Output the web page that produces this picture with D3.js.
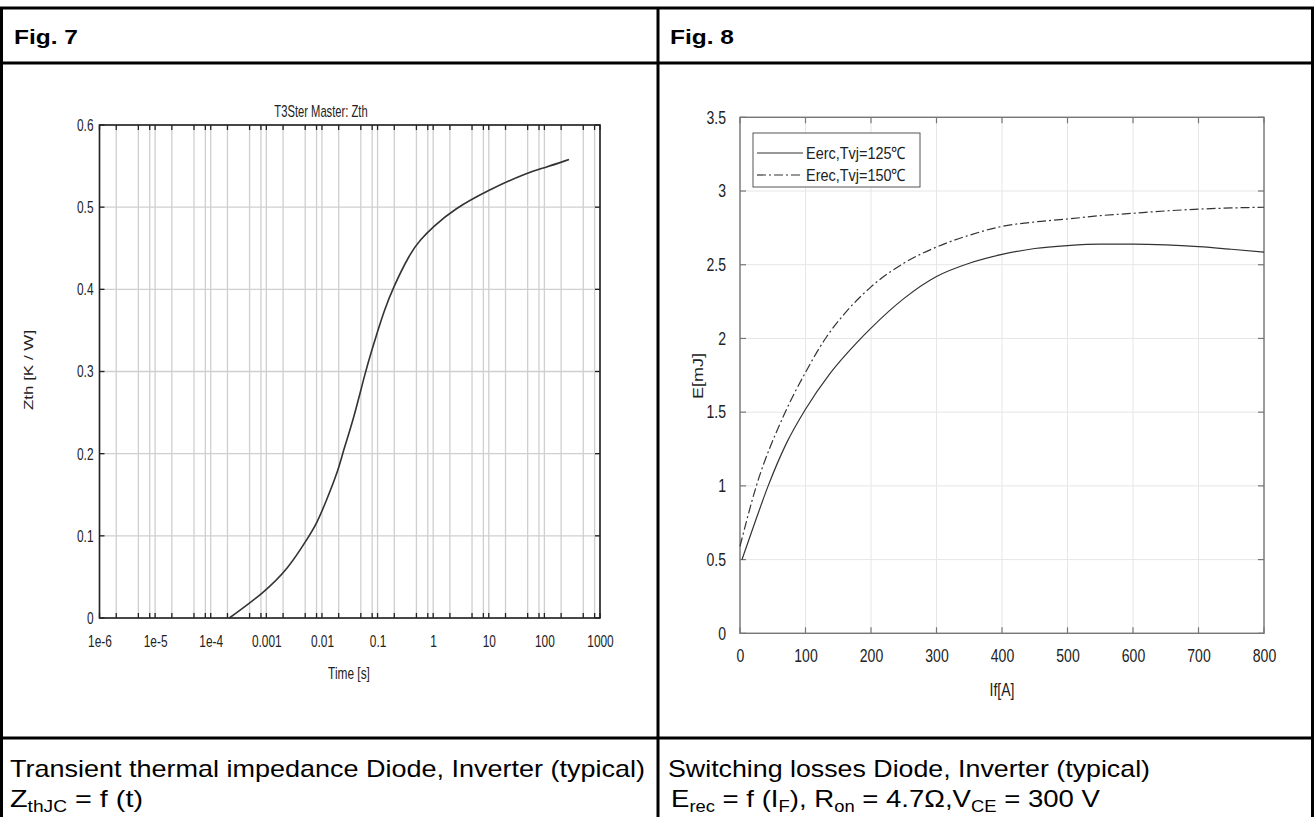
<!doctype html>
<html>
  <head>
    <meta charset="utf-8">
    <script src="https://cdn.jsdelivr.net/npm/d3@7/dist/d3.min.js"></script>
    <title>Fig. 7 / Fig. 8</title>
    <style>
      body { margin: 0; background: #fff; }
      svg { display: block; font-family: "Liberation Sans", Arial, sans-serif; }
    </style>
  </head>
  <body>
    <div id="chart"></div>
    <script>
      // Fig. 7 : Zth = f(t), thermal impedance of the diode
      const zthTime = [2.16e-4, 8.8e-4, 2.5e-3, 5.3e-3, 8.1e-3, 0.0122, 0.0197, 0.0243, 0.0367,
                       0.0596, 0.0787, 0.1016, 0.13, 0.19, 0.385, 0.58, 1.0, 2.28, 10, 48.8, 102, 277];
      const zthValue = [0, 0.030, 0.0605, 0.095, 0.115, 0.144, 0.180, 0.204, 0.241,
                        0.298, 0.326, 0.350, 0.373, 0.402, 0.444, 0.460, 0.476, 0.497, 0.521, 0.542, 0.548, 0.558];
      const timeTicks = [1e-6, 1e-5, 1e-4, 1e-3, 1e-2, 0.1, 1, 10, 100, 1000];
      const timeLabels = ["1e-6", "1e-5", "1e-4", "0.001", "0.01", "0.1", "1", "10", "100", "1000"];
      const zthTicks = [0, 0.1, 0.2, 0.3, 0.4, 0.5, 0.6];

      // Fig. 8 : Erec = f(IF)
      const ercCurrent = [3, 25, 43, 71, 100, 137, 178, 200, 250, 300, 350, 400, 450, 500, 550, 600, 650, 700, 750, 800];
      const ercEnergy  = [0.5, 0.78, 1.0, 1.29, 1.52, 1.76, 1.97, 2.07, 2.27, 2.42, 2.51, 2.57, 2.61, 2.63, 2.64, 2.64, 2.635, 2.623, 2.605, 2.585];
      const recCurrent = [0, 25, 66, 100, 132, 160, 200, 250, 300, 350, 400, 450, 500, 550, 600, 650, 700, 750, 800];
      const recEnergy  = [0.59, 1.0, 1.47, 1.77, 2.01, 2.17, 2.35, 2.51, 2.62, 2.70, 2.76, 2.79, 2.81, 2.833, 2.849, 2.865, 2.877, 2.885, 2.89];
      const seriesNames = ["Eerc,Tvj=125\u2103", "Erec,Tvj=150\u2103"];
      const currentTicks = [0, 100, 200, 300, 400, 500, 600, 700, 800];
      const energyTicks = [0, 0.5, 1, 1.5, 2, 2.5, 3, 3.5];

      const W = 1314, H = 817;
      const svg = d3.select("#chart").append("svg")
          .attr("width", W)
          .attr("height", H);

      // horizontally squeezed text (the chart bitmaps in the sheet are narrow)
      function ntext(parent, x, y, str, size, sx, anchor) {
        return parent.append("text")
            .attr("transform", `translate(${x},${y}) scale(${sx},1)`)
            .attr("text-anchor", anchor || "middle")
            .attr("font-size", size)
            .attr("fill", "#222")
            .text(str);
      }

      // ---- table frame ----
      const frame = svg.append("g").attr("stroke", "#000").attr("stroke-width", 3);
      [8, 63, 738].forEach(y => frame.append("line").attr("x1", 0).attr("x2", W).attr("y1", y).attr("y2", y));
      [1.5, 658, 1312.5].forEach(x => frame.append("line").attr("x1", x).attr("x2", x).attr("y1", 8).attr("y2", H));

      svg.append("text").attr("x", 14).attr("y", 44).attr("font-size", 21).attr("font-weight", "bold")
          .attr("textLength", 64).attr("lengthAdjust", "spacingAndGlyphs").text("Fig. 7");
      svg.append("text").attr("x", 670).attr("y", 44).attr("font-size", 21).attr("font-weight", "bold")
          .attr("textLength", 64).attr("lengthAdjust", "spacingAndGlyphs").text("Fig. 8");

      // captions
      const cap = svg.append("g").attr("font-size", 24).attr("fill", "#000");
      cap.append("text").attr("x", 10).attr("y", 777)
          .attr("textLength", 635).attr("lengthAdjust", "spacingAndGlyphs")
          .text("Transient thermal impedance Diode, Inverter (typical)");
      const c1 = cap.append("text").attr("x", 10).attr("y", 807)
          .attr("textLength", 133).attr("lengthAdjust", "spacingAndGlyphs");
      c1.append("tspan").text("Z");
      c1.append("tspan").attr("font-size", 16).attr("dy", 5).text("thJC");
      c1.append("tspan").attr("dy", -5).text(" = f (t)");
      cap.append("text").attr("x", 668).attr("y", 777)
          .attr("textLength", 482).attr("lengthAdjust", "spacingAndGlyphs")
          .text("Switching losses Diode, Inverter (typical)");
      const c2 = cap.append("text").attr("x", 671).attr("y", 807)
          .attr("textLength", 429).attr("lengthAdjust", "spacingAndGlyphs");
      c2.append("tspan").text("E");
      c2.append("tspan").attr("font-size", 16).attr("dy", 5).text("rec");
      c2.append("tspan").attr("dy", -5).text(" = f (I");
      c2.append("tspan").attr("font-size", 16).attr("dy", 5).text("F");
      c2.append("tspan").attr("dy", -5).text("), R");
      c2.append("tspan").attr("font-size", 16).attr("dy", 5).text("on");
      c2.append("tspan").attr("dy", -5).text(" = 4.7\u03A9,V");
      c2.append("tspan").attr("font-size", 16).attr("dy", 5).text("CE");
      c2.append("tspan").attr("dy", -5).text(" = 300 V");

      // ---- Fig. 7 ----
      (function() {
        const sx = 0.7, fs = 17;
        const x = d3.scaleLog().domain([1e-6, 1000]).range([99.5, 600]);
        const y = d3.scaleLinear().domain([0, 0.6]).range([618, 125]);
        const g = svg.append("g");

        const minor = [];
        timeTicks.slice(0, -1).forEach(d => [2, 5, 8].forEach(m => minor.push(d * m)));
        const allX = minor.concat(timeTicks);

        g.append("g").selectAll("line").data(allX).join("line")
            .attr("x1", d => x(d)).attr("x2", d => x(d))
            .attr("y1", y(0)).attr("y2", y(0.6))
            .attr("stroke", "#cfcfcf").attr("stroke-width", 1.3);
        g.append("g").selectAll("line").data(zthTicks).join("line")
            .attr("x1", x(1e-6)).attr("x2", x(1000))
            .attr("y1", d => y(d)).attr("y2", d => y(d))
            .attr("stroke", "#cfcfcf").attr("stroke-width", 1.3);

        // inward ticks on all four sides
        const tk = g.append("g").attr("stroke", "#222").attr("stroke-width", 1.3);
        allX.forEach(d => {
          tk.append("line").attr("x1", x(d)).attr("x2", x(d)).attr("y1", y(0)).attr("y2", y(0) - 5);
          tk.append("line").attr("x1", x(d)).attr("x2", x(d)).attr("y1", y(0.6)).attr("y2", y(0.6) + 5);
        });
        zthTicks.forEach(d => {
          tk.append("line").attr("x1", x(1e-6)).attr("x2", x(1e-6) + 5).attr("y1", y(d)).attr("y2", y(d));
          tk.append("line").attr("x1", x(1000)).attr("x2", x(1000) - 5).attr("y1", y(d)).attr("y2", y(d));
        });

        g.append("rect")
            .attr("x", x(1e-6)).attr("y", y(0.6))
            .attr("width", x(1000) - x(1e-6)).attr("height", y(0) - y(0.6))
            .attr("fill", "none").attr("stroke", "#222").attr("stroke-width", 1.6);

        const xAxis = d3.axisBottom(x).tickValues(timeTicks)
            .tickFormat((d, i) => timeLabels[i]).tickSize(0).tickPadding(17);
        g.append("g").attr("transform", `translate(0,${y(0)})`).call(xAxis)
            .call(s => s.select(".domain").remove())
            .selectAll("text")
            .attr("font-size", fs).attr("fill", "#222")
            .attr("transform", `scale(${sx},1)`);

        const ypad = 6;
        const yAxis = d3.axisLeft(y).tickValues(zthTicks).tickFormat(d3.format("")).tickSize(0);
        g.append("g").attr("transform", `translate(${x(1e-6)},0)`).call(yAxis)
            .call(s => s.select(".domain").remove())
            .selectAll("text")
            .attr("font-size", fs).attr("fill", "#222")
            .attr("x", 0)
            .attr("transform", `translate(${-ypad},0) scale(${sx},1)`);

        const line = d3.line().x(d => x(d[0])).y(d => y(d[1])).curve(d3.curveBasis);
        g.append("path")
            .datum(zthTime.map((t, i) => [t, zthValue[i]]))
            .attr("d", line)
            .attr("fill", "none").attr("stroke", "#333").attr("stroke-width", 1.6);

        ntext(g, 321, 117, "T3Ster Master: Zth", 16, sx);
        ntext(g, 349, 679, "Time [s]", fs, sx);
        g.append("text")
            .attr("transform", `translate(33,370) scale(${sx},1) rotate(-90)`)
            .attr("text-anchor", "middle").attr("font-size", fs).attr("fill", "#222").text("Zth [K / W]");
      })();

      // ---- Fig. 8 ----
      (function() {
        const sx = 0.78, fs = 18;
        const x = d3.scaleLinear().domain([0, 800]).range([740, 1264]);
        const y = d3.scaleLinear().domain([0, 3.5]).range([633.3, 117.3]);
        const g = svg.append("g");

        g.append("g").selectAll("line").data(currentTicks).join("line")
            .attr("x1", d => x(d)).attr("x2", d => x(d))
            .attr("y1", y(0)).attr("y2", y(3.5))
            .attr("stroke", "#e6e6e6").attr("stroke-width", 1);
        g.append("g").selectAll("line").data(energyTicks).join("line")
            .attr("x1", x(0)).attr("x2", x(800))
            .attr("y1", d => y(d)).attr("y2", d => y(d))
            .attr("stroke", "#e6e6e6").attr("stroke-width", 1);

        const tk = g.append("g").attr("stroke", "#777").attr("stroke-width", 1.2);
        currentTicks.forEach(d => {
          tk.append("line").attr("x1", x(d)).attr("x2", x(d)).attr("y1", y(0)).attr("y2", y(0) - 6);
          tk.append("line").attr("x1", x(d)).attr("x2", x(d)).attr("y1", y(3.5)).attr("y2", y(3.5) + 6);
        });
        energyTicks.forEach(d => {
          tk.append("line").attr("x1", x(0)).attr("x2", x(0) + 6).attr("y1", y(d)).attr("y2", y(d));
          tk.append("line").attr("x1", x(800)).attr("x2", x(800) - 6).attr("y1", y(d)).attr("y2", y(d));
        });

        g.append("rect")
            .attr("x", x(0)).attr("y", y(3.5))
            .attr("width", x(800) - x(0)).attr("height", y(0) - y(3.5))
            .attr("fill", "none").attr("stroke", "#777").attr("stroke-width", 1.4);

        const xAxis = d3.axisBottom(x).tickValues(currentTicks).tickSize(0).tickPadding(16);
        g.append("g").attr("transform", `translate(0,${y(0)})`).call(xAxis)
            .call(s => s.select(".domain").remove())
            .selectAll("text")
            .attr("font-size", fs).attr("fill", "#222")
            .attr("transform", `scale(${sx},1)`);

        const ypad = 14;
        const yAxis = d3.axisLeft(y).tickValues(energyTicks).tickFormat(d3.format("")).tickSize(0);
        g.append("g").attr("transform", `translate(${x(0)},0)`).call(yAxis)
            .call(s => s.select(".domain").remove())
            .selectAll("text")
            .attr("font-size", fs).attr("fill", "#222")
            .attr("x", 0)
            .attr("transform", `translate(${-ypad},0) scale(${sx},1)`);

        const line = d3.line().x(d => x(d[0])).y(d => y(d[1])).curve(d3.curveMonotoneX);
        g.append("path")
            .datum(ercCurrent.map((c, i) => [c, ercEnergy[i]]))
            .attr("d", line)
            .attr("fill", "none").attr("stroke", "#333").attr("stroke-width", 1.2);
        g.append("path")
            .datum(recCurrent.map((c, i) => [c, recEnergy[i]]))
            .attr("d", line)
            .attr("fill", "none").attr("stroke", "#333").attr("stroke-width", 1.2)
            .attr("stroke-dasharray", "9,3,2,3");

        // legend
        const lg = g.append("g");
        lg.append("rect").attr("x", 753).attr("y", 133).attr("width", 167).attr("height", 54)
            .attr("fill", "#fff").attr("stroke", "#555").attr("stroke-width", 1);
        seriesNames.forEach((name, i) => {
          const yy = 153 + i * 22;
          lg.append("line").attr("x1", 757).attr("x2", 803).attr("y1", yy).attr("y2", yy)
              .attr("stroke", "#333").attr("stroke-width", 1.2)
              .attr("stroke-dasharray", i ? "9,3,2,3" : null);
          ntext(lg, 806, yy + 6, name, 17, 0.85, "start");
        });

        ntext(g, 1002, 696, "If[A]", fs, sx);
        g.append("text")
            .attr("transform", `translate(703,376) scale(${sx},1) rotate(-90)`)
            .attr("text-anchor", "middle").attr("font-size", fs).attr("fill", "#222").text("E[mJ]");
      })();
    </script>
  </body>
</html>
